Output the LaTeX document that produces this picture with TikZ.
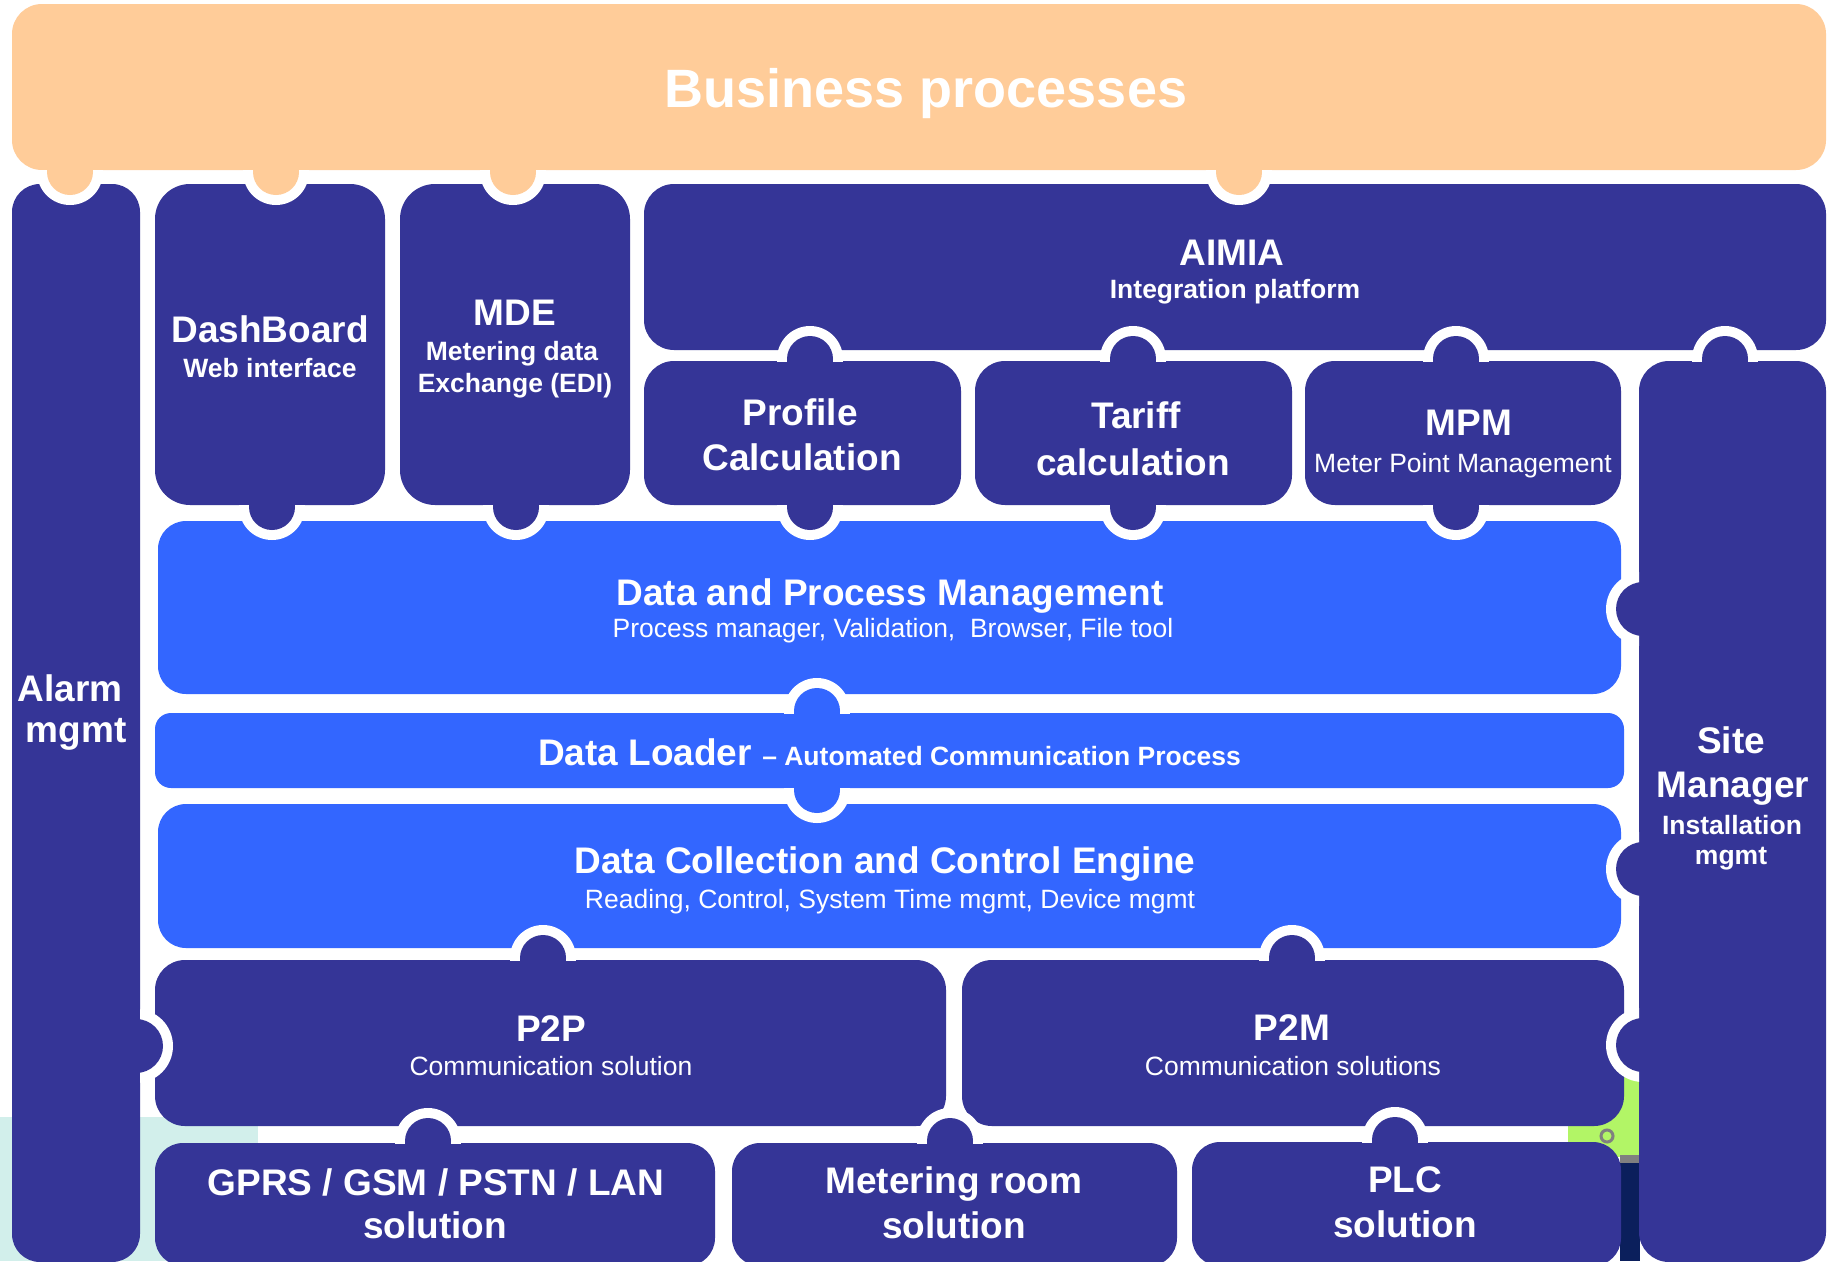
\documentclass[tikz,border=0pt]{standalone}
\usepackage{fontspec}
\setmainfont{Liberation Sans}
\definecolor{dk}{HTML}{353597}
\definecolor{bl}{HTML}{3366FF}
\definecolor{og}{HTML}{FFCC99}
\definecolor{cy}{HTML}{D2EFEB}
\definecolor{gr}{HTML}{B2F566}
\definecolor{nv}{HTML}{0B1F5C}
\tikzset{
  piece/.style={rectangle, inner sep=0pt, outer sep=0pt, rounded corners=30pt},
  lbl/.style={text=white, anchor=base, inner sep=0pt, outer sep=0pt},
  big/.style={lbl, font=\fontsize{37}{44}\selectfont\bfseries},
  sub/.style={lbl, font=\fontsize{26.5}{32}\selectfont\bfseries},
  subr/.style={lbl, font=\fontsize{26.5}{32}\selectfont},
}
% knob owned by a piece whose bottom edge is at y=#3, going down
\newcommand\KnobD[3]{%
  \begin{scope}\clip (#2-45,#3) rectangle (#2+45,#3+45);
    \fill[white] (#2,#3+2) circle (33);\end{scope}
  \fill[#1] (#2-23,#3-4) rectangle (#2+23,#3+2);
  \fill[#1] (#2,#3+2) circle (23);}
% knob owned by a piece whose top edge is at y=#3, going up
\newcommand\KnobU[3]{%
  \begin{scope}\clip (#2-45,#3-45) rectangle (#2+45,#3);
    \fill[white] (#2,#3-2) circle (33);\end{scope}
  \fill[#1] (#2-23,#3-2) rectangle (#2+23,#3+4);
  \fill[#1] (#2,#3-2) circle (23);}
% knob owned by a piece whose left edge is at x=#2, going left
\newcommand\KnobL[3]{%
  \begin{scope}\clip (#2-45,#3-45) rectangle (#2,#3+45);
    \fill[white] (#2+4,#3) circle (37);\end{scope}
  \fill[#1] (#2+4,#3) circle (27);}
% knob owned by a piece whose right edge is at x=#2, going right
\newcommand\KnobR[3]{%
  \begin{scope}\clip (#2,#3-45) rectangle (#2+45,#3+45);
    \fill[white] (#2-4,#3) circle (37);\end{scope}
  \fill[#1] (#2-4,#3) circle (27);}
\begin{document}
\begin{tikzpicture}[x=1pt,y=-1pt]
\useasboundingbox (0,0) rectangle (1827,1261);
\clip (0,0) rectangle (1827,1261);
\fill[white] (0,0) rectangle (1827,1261);
% background remnants
\fill[cy] (0,1117) rectangle (258,1261);
\fill[gr] (1568,1060) rectangle (1640,1157);
\fill[gray] (1620,1155) rectangle (1640,1163);
\fill[nv] (1620,1163) rectangle (1640,1261);
\draw[gray, line width=3pt] (1607,1136) circle (6);
% pieces
\node[piece, fill=og, minimum width=1814pt, minimum height=166pt] (bp) at (919,87) {};
\node[piece, fill=dk, rounded corners=28pt, minimum width=128pt, minimum height=1078pt] (alarm) at (76,723) {};
\node[piece, fill=dk, rounded corners=35pt, minimum width=230pt, minimum height=321pt] (dash) at (270,344.5) {};
\node[piece, fill=dk, rounded corners=35pt, minimum width=230pt, minimum height=321pt] (mde) at (515,344.5) {};
\node[piece, fill=dk, minimum width=1182pt, minimum height=166pt] (aimia) at (1235,267) {};
\node[piece, fill=dk, minimum width=317pt, minimum height=144pt] (profile) at (802.5,433) {};
\node[piece, fill=dk, minimum width=317pt, minimum height=144pt] (tariff) at (1133.5,433) {};
\node[piece, fill=dk, minimum width=316pt, minimum height=144pt] (mpm) at (1463,433) {};
\node[piece, fill=dk, minimum width=187pt, minimum height=901pt] (site) at (1732.5,811.5) {};
\node[piece, fill=bl, rounded corners=28pt, minimum width=1463pt, minimum height=173pt] (dpm) at (889.5,607.5) {};
\node[piece, fill=bl, rounded corners=16pt, minimum width=1469pt, minimum height=75pt] (dl) at (889.5,750.5) {};
\node[piece, fill=bl, rounded corners=28pt, minimum width=1463pt, minimum height=144pt] (dce) at (889.5,876) {};
\node[piece, fill=dk, minimum width=791pt, minimum height=166pt] (p2p) at (550.5,1043) {};
\node[piece, fill=dk, minimum width=662pt, minimum height=166pt] (p2m) at (1293,1043) {};
\node[piece, fill=dk, rounded corners=28pt, minimum width=560pt, minimum height=123pt] (gprs) at (435,1204.5) {};
\node[piece, fill=dk, rounded corners=28pt, minimum width=445pt, minimum height=123pt] (meter) at (954.5,1204.5) {};
\node[piece, fill=dk, rounded corners=28pt, minimum width=429pt, minimum height=124pt] (plc) at (1406.5,1204) {};
% knobs
\KnobD{og}{70}{170}\KnobD{og}{276}{170}\KnobD{og}{513}{170}\KnobD{og}{1239}{170}
\KnobU{dk}{810}{361}\KnobU{dk}{1133}{361}\KnobU{dk}{1456}{361}\KnobU{dk}{1725}{361}
\KnobD{dk}{272}{505}\KnobD{dk}{516}{505}\KnobD{dk}{810}{505}\KnobD{dk}{1133}{505}\KnobD{dk}{1456}{505}
\KnobL{dk}{1639}{609}\KnobL{dk}{1639}{869}\KnobL{dk}{1639}{1045}
\KnobU{bl}{817}{713}\KnobD{bl}{817}{788}
\KnobU{dk}{543}{960}\KnobU{dk}{1292}{960}
\KnobR{dk}{140}{1046}
\KnobU{dk}{428}{1143}\KnobU{dk}{950}{1143}\KnobU{dk}{1395}{1142}
% texts
\node[lbl, font=\fontsize{54}{64}\selectfont\bfseries] (tbp) at (926,107) {Business processes};
\node[big] (tdash1) at (270,342) {DashBoard};
\node[sub] (tdash2) at (270,377) {Web interface};
\node[big] (tmde1) at (515,325) {MDE};
\node[sub] (tmde2) at (512,360) {Metering data};
\node[sub] (tmde3) at (515,392) {Exchange (EDI)};
\node[big] (taim1) at (1232,265) {AIMIA};
\node[sub] (taim2) at (1235,298) {Integration platform};
\node[big] (tpro1) at (800,425) {Profile};
\node[big] (tpro2) at (802,470) {Calculation};
\node[big] (ttar1) at (1136,428) {Tariff};
\node[big] (ttar2) at (1133,475) {calculation};
\node[big] (tmpm1) at (1469,435) {MPM};
\node[subr] (tmpm2) at (1463,472) {Meter Point Management};
\node[big] (tdpm1) at (890,605) {Data and Process Management};
\node[subr] (tdpm2) at (893,637) {Process manager, Validation,\ \ Browser, File tool};
\node[big] (tdl) at (889.5,765) {Data Loader {\fontsize{26.5}{32}\selectfont -- Automated Communication Process}};
\node[big] (tdce1) at (885,873) {Data Collection and Control Engine};
\node[subr] (tdce2) at (890,908) {Reading, Control, System Time mgmt, Device mgmt};
\node[big] (tp2p1) at (551,1041) {P2P};
\node[subr] (tp2p2) at (551,1075) {Communication solution};
\node[big] (tp2m1) at (1292,1040) {P2M};
\node[subr] (tp2m2) at (1293,1075) {Communication solutions};
\node[big] (tgp1) at (436,1195) {GPRS / GSM / PSTN / LAN};
\node[big] (tgp2) at (435,1238) {solution};
\node[big] (tmr1) at (954,1193) {Metering room};
\node[big] (tmr2) at (954,1238) {solution};
\node[big] (tplc1) at (1405,1192) {PLC};
\node[big] (tplc2) at (1405,1237) {solution};
\node[big] (tal1) at (70,701) {Alarm};
\node[big] (tal2) at (76,742) {mgmt};
\node[big] (tsm1) at (1731,753) {Site};
\node[big] (tsm2) at (1733,797) {Manager};
\node[sub] (tsm3) at (1732,834) {Installation};
\node[sub] (tsm4) at (1731,864) {mgmt};
\end{tikzpicture}
\end{document}
